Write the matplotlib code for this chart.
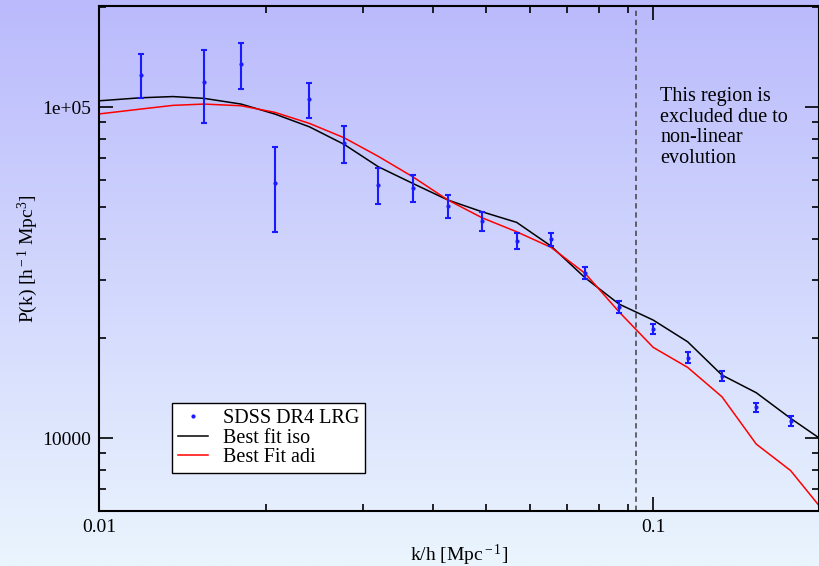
import numpy as np
import matplotlib
matplotlib.use('Agg')
import matplotlib.pyplot as plt
from matplotlib.lines import Line2D

plt.rcParams['font.family'] = ['Liberation Serif', 'DejaVu Serif']
plt.rcParams['mathtext.fontset'] = 'custom'
plt.rcParams['mathtext.rm'] = 'Liberation Serif'
plt.rcParams['mathtext.it'] = 'Liberation Serif:italic'

# SDSS DR4 LRG band powers
k_data = [0.0119, 0.01547, 0.01805, 0.02078, 0.02397, 0.02769, 0.03193,
          0.03684, 0.04266, 0.04914, 0.05675, 0.06546, 0.07541, 0.08683,
          0.1001, 0.1155, 0.1332, 0.1536, 0.1772]
P_data = [125200, 119300, 134900, 58800, 105700, 77700, 58130,
          56920, 50230, 45240, 39450, 39920, 31580, 24930,
          21350, 17480, 15390, 12380, 11230]
P_err = [19000, 29500, 21500, 16800, 12800, 9700, 7300,
         5400, 4000, 3000, 2150, 1750, 1280, 1000,
         790, 670, 530, 410, 390]

# model curves
k_model = [0.00894, 0.01032, 0.0119, 0.0136, 0.01547, 0.01805, 0.02078,
           0.02397, 0.02769, 0.03193, 0.03684, 0.04266, 0.04914, 0.05675,
           0.06546, 0.07541, 0.08683, 0.1001, 0.1155, 0.1332, 0.1536,
           0.1772, 0.2045]
P_iso = [103200, 104840, 106680, 107580, 106240, 102110, 95250,
         87180, 77170, 66020, 58800, 52360, 48270, 44830,
         38020, 30500, 25400, 22720, 19540, 15500, 13710,
         11470, 9725]
P_adi = [93280, 95910, 98620, 101190, 102110, 100910, 96380,
         89290, 80800, 70970, 61580, 52360, 46300, 42000,
         37680, 31450, 24070, 18790, 16350, 13330, 9590,
         7975, 5935]

k_cut = 0.0932

fig = plt.figure(figsize=(8.19, 5.66), dpi=100)

# background gradient
bg = fig.add_axes([0, 0, 1, 1], zorder=-10)
top = np.array([186, 186, 252]) / 255.
bot = np.array([234, 245, 254]) / 255.
t = np.linspace(0, 1, 256)[:, None]
grad = top[None, :] * (1 - t) + bot[None, :] * t
bg.imshow(grad[:, None, :], aspect='auto', extent=[0, 1, 0, 1])
bg.axis('off')

ax = fig.add_axes([99/819, 55/566, 720/819, 505/566])
ax.patch.set_alpha(0)

blue = '#1a1aff'
l_iso, = ax.plot(k_model, P_iso, '-', color='black', lw=1.1)
l_adi, = ax.plot(k_model, P_adi, '-', color='red', lw=1.1)
ax.errorbar(k_data, P_data, yerr=P_err, fmt='o', ms=2, color=blue,
            ecolor=blue, elinewidth=1.5, capsize=2.4, capthick=1.5, zorder=3)
ax.axvline(k_cut, color='#404040', lw=1.1, dashes=(3.5, 2.5))

ax.set_xscale('log')
ax.set_yscale('log')
ax.set_xlim(0.01, 0.1994)
ax.set_ylim(6020, 202000)

ax.set_xticks([0.01, 0.1], ['0.01', '0.1'])
ax.set_yticks([10000, 100000], ['10000', '1e+05'])
ax.tick_params(which='both', direction='in', top=True, right=True,
               width=1.2, labelsize=14)
ax.tick_params(which='major', length=10, pad=6)
ax.tick_params(which='minor', length=5)
for s in ax.spines.values():
    s.set_linewidth(1.5)

ax.set_xlabel(r'k/h [Mpc$^{\rm -1}$]', fontsize=14)
ax.set_ylabel(r'P(k) [h$^{\rm -1}$ Mpc$^{\rm 3}$]', fontsize=14)
ax.xaxis.set_label_coords(0.5, -0.062)
ax.yaxis.set_label_coords(-0.082, 0.5)

fig.text(660/819, 1 - 87/566,
         'This region is\nexcluded due to\nnon-linear\nevolution',
         fontsize=14.5, va='top', ha='left', linespacing=1.12)

dot = Line2D([], [], ls='none', marker='o', ms=2, color=blue)
leg = ax.legend([dot, l_iso, l_adi],
                ['SDSS DR4 LRG', 'Best fit iso', 'Best Fit adi'],
                loc='upper left', bbox_to_anchor=(0.101, 0.2133),
                borderaxespad=0, fontsize=14.5, fancybox=False,
                framealpha=1, edgecolor='black', handlelength=1.5,
                handletextpad=0.75, labelspacing=0.02, borderpad=0.3)
leg.get_frame().set_linewidth(1.0)

plt.savefig('out.png', dpi=100)
